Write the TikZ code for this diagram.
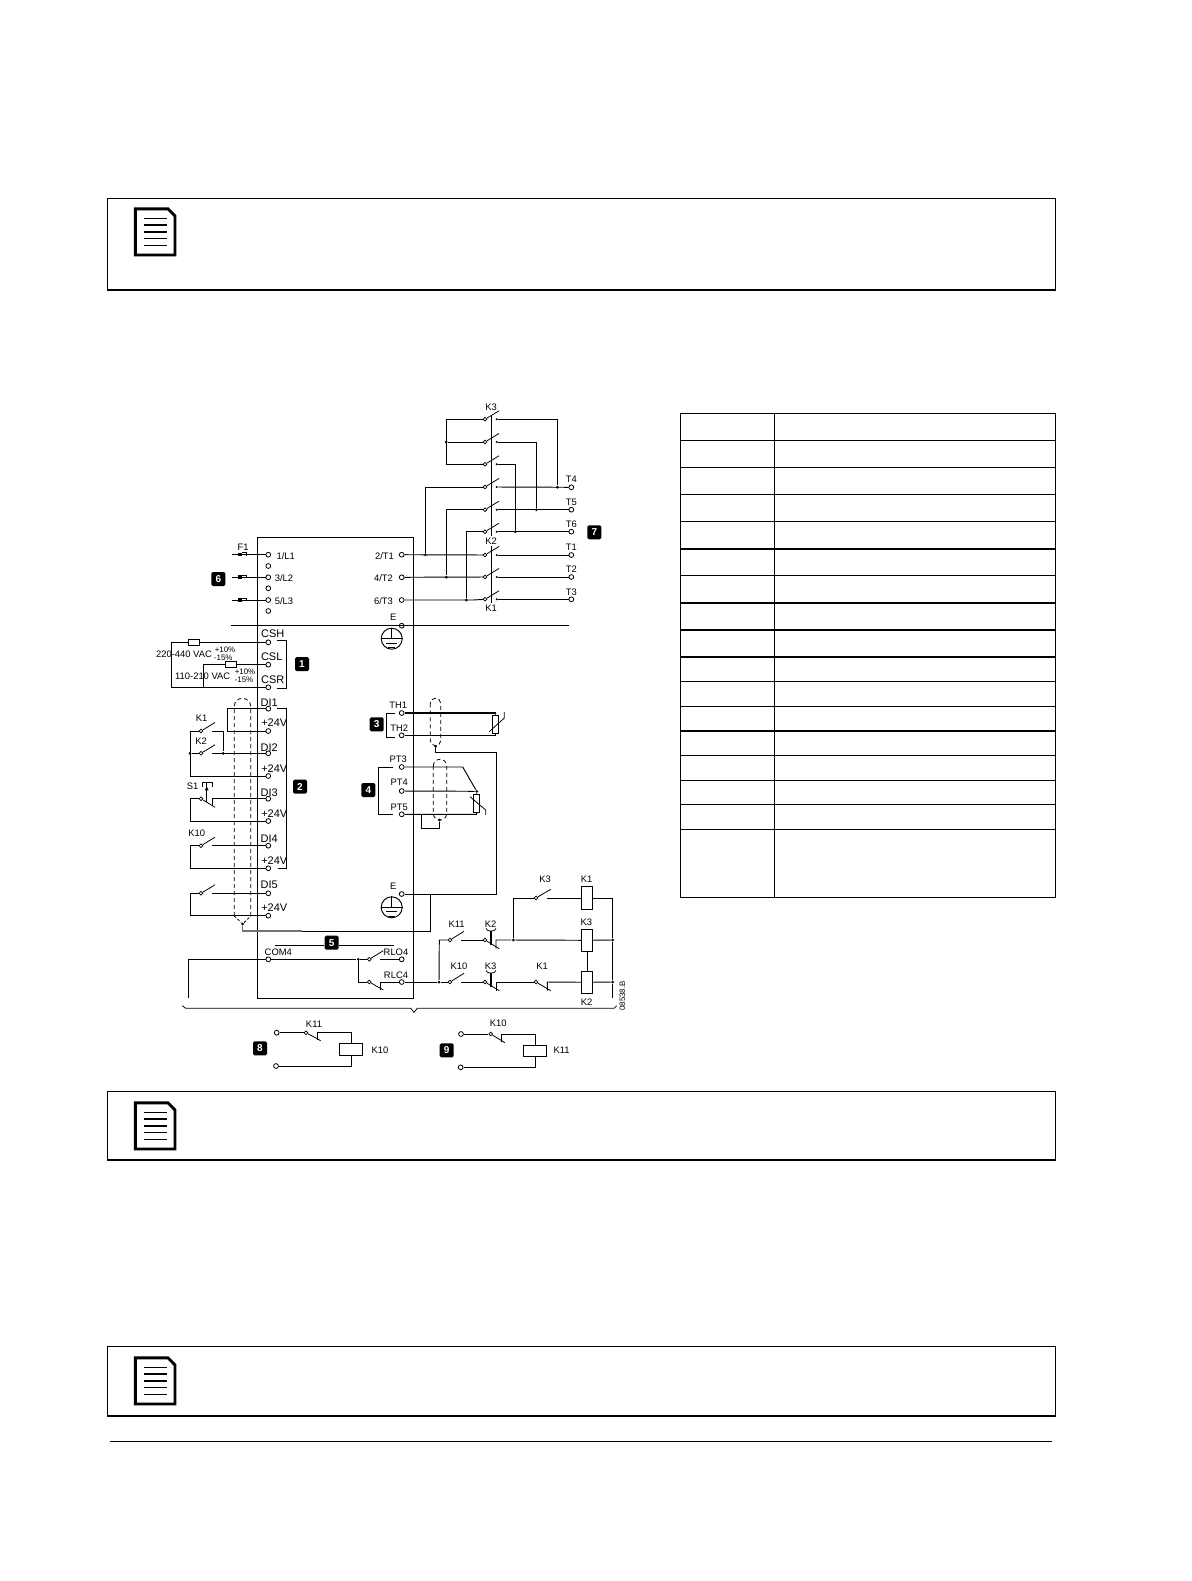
\documentclass[tikz,border=0pt]{standalone}
\usepackage{fontspec}
\setmainfont{Liberation Sans}
\usetikzlibrary{arrows.meta}

% small helpers for the repeated symbols
\newcommand{\noteicon}[2]{% name, top y
  \draw[line width=2.9pt, fill=white, line join=miter] (135.4,#2+0.8) -- (168,#2+0.8) -- (175,#2+8) -- (175,#2+47) -- (135.4,#2+47) -- cycle;
  \foreach \dy in {10.5,17,24,30.5,37.5}
    \draw[line width=1.2pt] (143.5,#2+\dy) -- (166.7,#2+\dy);
}
\newcommand{\earth}[3]{% name, x, y
  \node[circle, draw, minimum size=21pt, inner sep=0pt] (#1) at (#2,#3) {};
  \draw (#1.north) -- (#1.center);
  \draw (#1.west) -- (#1.east);
  \draw (#2-5.7,#3+4.3) -- (#2+5.7,#3+4.3);
  \draw (#2-3.3,#3+8.8) -- (#2+3.3,#3+8.8);
}
\newcommand{\fusemark}[1]{% y
  \fill (238.3,#1-2) rectangle (241.7,#1+1.5);
  \draw[line width=0.7pt] (241.7,#1-2) -- (246.5,#1-2) -- (246.5,#1+1);
}

\begin{document}
\begin{tikzpicture}[x=1pt, y=-1pt, line width=0.95pt,
    term/.style={circle, draw, fill=white, minimum size=4.8pt, inner sep=0pt, line width=0.8pt},
    cont/.style={circle, draw, fill=white, minimum size=3.8pt, inner sep=0pt, line width=0.7pt},
    jdot/.style={circle, fill=black, minimum size=3pt, inner sep=0pt},
    tip/.style={circle, fill=black, minimum size=2.2pt, inner sep=0pt},
    lab/.style={inner sep=0pt, font=\fontsize{9.4}{9.4}\selectfont},
    big/.style={inner sep=0pt, font=\fontsize{11}{11}\selectfont},
    tiny/.style={inner sep=0pt, font=\fontsize{7.9}{8}\selectfont},
    badge/.style={rectangle, rounded corners=1.5pt, fill=black, text=white, minimum size=14pt, inner sep=0pt, font=\fontsize{10}{10}\selectfont\bfseries},
    res/.style={rectangle, draw, fill=white, inner sep=0pt, line width=0.8pt},
    shield/.style={dashed, dash pattern=on 4pt off 3pt, line width=0.8pt}]
  \useasboundingbox (0,0) rectangle (1191,1581);

  % note boxes and footer
  \draw[line width=1.1pt] (107.3,198.3) rectangle (1055.3,290);
  \draw[line width=1.1pt] (107.3,1091.3) rectangle (1055.3,1160);
  \draw[line width=1.1pt] (107.3,1346.3) rectangle (1055.3,1416);
  \noteicon{a}{208}
  \noteicon{b}{1102}
  \noteicon{c}{1357}
  \draw[line width=0.9pt] (110,1441) -- (1051.7,1441); % footer

  % table on the right
  \draw[line width=1.1pt] (680.3,413.3) rectangle (1055.3,897.3);
  \draw[line width=1.1pt] (774.3,413.3) -- (774.3,897.3);
  \foreach \y in {440.3,467.3,494.3,521.3,575.3,681.3,706.3,755.3,780.3,804.3,829.3}
    \draw[line width=1pt] (680.3,\y) -- (1055.3,\y);
  \foreach \y in {549,602.7,630,657,731}
    \draw[line width=1.9pt] (680.3,\y) -- (1055.3,\y);

  % starter outline
  \node[draw, minimum width=156pt, minimum height=461.3pt, inner sep=0pt] (box) at (335.3,767.65) {};

  % terminals, left side
  \foreach \nm/\y in {L1/554.7, L2/577.3, L3/600, Lx/566, Ly/588.3, Lz/611,
      CSH/642.3, CSL/664.7, CSR/687.3, DIa/708.7, Va/731, DIb/753.3, Vb/776,
      DIc/798.7, Vc/821, DId/845.7, Vd/868.3, DIe/893.3, Ve/915.7, COM/959.3}
    \node[term] (\nm) at (268.3,\y) {};
  % terminals, right side
  \foreach \nm/\y in {Ta/554.7, Tb/577.3, Tc/600, Eu/625.7, THa/713, THb/735.3,
      PTa/767, PTb/791, PTc/814.3, El/894, RLO/959.3, RLC/982}
    \node[term] (\nm) at (401.7,\y) {};

  % labels
  \foreach \nm/\x/\y/\t in {F/243/547/F1, lLa/285.7/556/{1/L1}, lLb/284/578/{3/L2}, lLc/284/601/{5/L3},
      lTa/384.5/556/{2/T1}, lTb/383.5/578/{4/T2}, lTc/383.5/601/{6/T3}, lEu/393.3/617.3/E, lEl/393.3/886.7/E,
      lKa/201.7/718.3/K1, lKb/201/741.7/K2, lSa/192.7/786.7/S1, lKc/196.7/833.3/K10,
      lCOM/278.3/952.7/COM4, lRO/396/952.7/RLO4, lRC/396/975.7/RLC4,
      lHa/398.3/705.7/TH1, lHb/399.3/728.3/TH2, lPa/398.3/759.3/PT3, lPb/399.3/782.7/PT4, lPc/399.3/807.3/PT5,
      lV/184/654/220-440 VAC, lW/202.7/676/110-210 VAC,
      lK3t/491/407.3/K3, lK2t/491/541/K2, lK1t/491/608.3/K1,
      lT4/571.3/479.7/T4, lT5/571.3/502.3/T5, lT6/571.3/524.3/T6, lT1/571.3/547/T1, lT2/571.3/569.7/T2, lT3/571.3/592/T3,
      lKd/545/879.3/K3, lKe/586.7/879.3/K1, lKf/586.3/922.3/K3, lKg/586.7/1002.3/K2,
      lKh/456.7/924.3/K11, lKi/490.7/924.3/K2, lKj/459/966.7/K10, lKk/490.7/966.7/K3, lKl/542/966/K1,
      lKm/314/1024.3/K11, lKn/380/1050.7/K10, lKo/498.3/1023/K10, lKp/561.7/1050.3/K11}
    \node[lab] (\nm) at (\x,\y) {\t};
  \foreach \nm/\x/\y/\t in {lCSH/272.7/634/CSH, lCSL/271.7/656.7/CSL, lCSR/272.7/679.3/CSR,
      lDa/269.3/702.3/DI1, lVa/274.3/722.7/+24V, lDb/269.3/747.3/DI2, lVb/274.3/768.3/+24V,
      lDc/269.3/792.7/DI3, lVc/274.3/814/+24V, lDd/269.3/838.3/DI4, lVd/274.3/860.7/+24V,
      lDe/269.3/885/DI5, lVe/274.3/907.7/+24V}
    \node[big] (\nm) at (\x,\y) {\t};
  \foreach \nm/\x/\y/\t in {pa/225/649.3/+10\%, pb/223.3/657.3/-15\%, pc/245/671.7/+10\%, pd/244/679.3/-15\%}
    \node[tiny] (\nm) at (\x,\y) {\t};
  \node[tiny, rotate=90] (code) at (622.3,996) {08538.B};

  % numbered badges
  \foreach \nm/\x/\y/\t in {b1/302/664/1, b2/300/786.7/2, b3/376.7/724.3/3, b4/368.3/790/4, b5/331.7/942.7/5,
      b6/218.3/579/6, b7/594.3/532.3/7, b8/260/1048.3/8, b9/446.7/1050.3/9}
    \node[badge] (\nm) at (\x,\y) {\t};

  % incoming supply with fuses
  \foreach \nm/\y in {L1/554.7, L2/577.3, L3/600} {
    \coordinate (in\nm) at (232,\y);
    \draw (in\nm) -- (\nm);
    \fusemark{\y}
  }
  \coordinate (busL) at (231,625.3);
  \coordinate (busR) at (569,625.3);
  \draw (busL) -- (busR); % divider line

  % earth symbols
  \earth{gnda}{391.7}{638.7}
  \earth{gndb}{391.7}{907.3}

  % control supply
  \node[res, minimum width=11.5pt, minimum height=6pt] (Ra) at (194,642.3) {};
  \node[res, minimum width=11.5pt, minimum height=6pt] (Rb) at (231,664.7) {};
  \draw (CSH) -- (Ra) -- (171.3,642.3) |- (CSR);
  \draw (CSL) -- (Rb) -- (203.3,664.7) -- (203.3,687.3);
  \draw (277.3,640.7) -- (286.7,640.7) -- (286.7,688.3) -- (277.3,688.3); % bracket 1

  % contactor block K1 K2 K3
  \coordinate (mka) at (491.7,415);
  \coordinate (mkb) at (491.7,536);
  \coordinate (mkc) at (491.7,546);
  \coordinate (mkd) at (491.7,603);
  \draw (mka) -- (mkb);
  \draw (mkc) -- (mkd);
  \foreach \nm/\y in {a/419.3, b/442, c/464.3, d/487, e/509.7, f/531.7, g/555, h/577, i/599.3} {
    \node[cont] (c\nm) at (485,\y) {};
    \node[tip] (p\nm) at (496.7,\y) {};
    \draw[line width=0.8pt] (c\nm) -- ++(14,-8.5);
  }
  \node[jdot] (jb) at (446,442) {};
  \draw (ca) -- (446.3,419.3) |- (cc);
  \draw (jb) -- (cb);
  \foreach \nm/\y in {T4/487.3, T5/509.7, T6/531.7, T1/555, T2/577, T3/599.3}
    \node[term] (\nm) at (571.3,\y) {};
  \node[jdot] (ja) at (557.3,487.3) {};
  \node[jdot] (jc) at (536.3,509.7) {};
  \node[jdot] (jd) at (515.3,531.7) {};
  \draw (pa) -| (ja);
  \draw (pb) -| (jc);
  \draw (pc) -| (jd);
  \draw (pd) -- (T4);
  \draw (pe) -- (T5);
  \draw (pf) -- (T6);
  \draw (pg) -- (T1);
  \draw (ph) -- (T2);
  \draw (pi) -- (T3);
  \node[jdot] (je) at (425.3,554.7) {};
  \node[jdot] (jf) at (446.3,577.3) {};
  \node[jdot] (jg) at (466.3,600) {};
  \draw (Ta) -- (cg);
  \draw (Tb) -- (ch);
  \draw (Tc) -- (473,600) -- (ci);
  \draw (cd) -| (je);
  \draw (ce) -| (jf);
  \draw (cf) -| (jg);

  % digital inputs
  \draw (DIa) -- (227.7,708.7) |- (Va);
  \draw (277.3,708.7) -- (286.7,708.7) -- (286.7,868.3) -- (278.3,868.3); % bracket 2
  \foreach \nm/\y in {ka/731, kb/753.3, kd/845.7, ke/893.3} {
    \node[cont] (\nm) at (201,\y) {};
    \draw[line width=0.8pt] (\nm) -- ++(14,-8.5);
    \coordinate (r\nm) at (211.7,\y);
  }
  \node[cont] (kc) at (201,798.7) {};
  \draw[line width=0.8pt] (kc) -- ++(14,8.6);
  \node[jdot] (jh) at (190,753.3) {};
  \node[jdot] (ji) at (223.3,753.3) {};
  \draw (ka) -- (190.3,731) |- (Vb);
  \draw (jh) -- (kb);
  \draw (rka) -- (223.3,731) -- (ji);
  \draw (rkb) -- (DIb);
  \draw (kc) -- (190.3,798.7) |- (Vc);
  \draw (212.3,806.3) -- (212.3,798.7) -- (DIc);
  \draw (kd) -- (190.3,845.7) |- (Vd);
  \draw (rkd) -- (DId);
  \draw (ke) -- (190.3,893.3) |- (Ve);
  \draw (rke) -- (DIe);
  % S1 push button
  \draw[line width=0.8pt] (202.3,786.5) -- (202.3,782.3) -- (212.3,782.3) -- (212.3,786.5);
  \draw[line width=0.8pt] (206.7,782.3) -- (206.7,801.7);
  \fill (206.7,786.5) -- (208.6,790.3) -- (204.8,790.3) -- cycle;

  % cable screen, inputs
  \draw[shield, rounded corners=8pt] (234.3,916) -- (234.3,698.3) -- (250.7,698.3) -- (250.7,916);
  \node[jdot] (sa) at (242.7,924) {};
  \draw[line width=0.8pt, dash pattern=on 2.5pt off 2pt] (234.3,916) -- (sa) -- (250.7,916);
  \draw[line width=1.2pt, black!55] (sa) -- (242.7,931) -- (302,931);
  \draw (302,931) -- (430.3,931) -- (430.3,894);

  % lines either side of badge 5
  \coordinate (ca5) at (275,945.3);
  \coordinate (cb5) at (394,945.3);
  \draw (ca5) -- (b5.west |- ca5);
  \draw (b5.east |- cb5) -- (cb5);

  % relay outputs
  \coordinate (comL) at (188.7,998);
  \node[jdot] (jj) at (358.3,959.3) {};
  \node[cont] (ro) at (369.3,959.3) {};
  \node[cont] (rc) at (369.3,982) {};
  \draw (comL) |- (COM);
  \draw (COM) -- (jj) -- (ro);
  \draw[line width=0.8pt] (ro) -- ++(14,-8.6);
  \draw (380,959.3) -- (RLO);
  \draw (jj) |- (rc);
  \draw[line width=0.8pt] (rc) -- ++(14,8);
  \draw (380.7,990) -- (380.7,982) -- (RLC);

  % thermistor 3
  \node[res, minimum width=6.4pt, minimum height=18.3pt] (Rc) at (495.5,724.2) {};
  \draw[line width=1.9pt] (THa) -- (495.7,713);
  \draw (THb) -- (495.7,735.3);
  \draw (495.7,713) -- (Rc);
  \draw (Rc) -- (495.7,735.3);
  \draw[line width=0.8pt] (489.3,731.7) -- (504.3,718) -- (504.3,712);
  \draw (386.7+8.3,713) -- (386.7,713) -- (386.7,737.3) -- (395,737.3); % bracket 3
  \draw[shield, rounded corners=5pt] (430.3,698.3) rectangle (440.7,745.7);
  \node[jdot] (sb) at (435.7,746.3) {};
  \draw (sb) -- (435.7,752.3) -- (496.7,752.3) |- (El);

  % thermistor 4
  \node[res, minimum width=6pt, minimum height=18.4pt] (Rd) at (476.3,803.5) {};
  \node[jdot] (jk) at (476.7,791.3) {};
  \draw (PTa) -- (462.7,767) -- (jk);
  \draw (PTb) -- (jk);
  \draw (jk) -- (Rd);
  \draw (PTc) -- (476.7,814.3) -- (Rd);
  \draw[line width=0.8pt] (470,796.7) -- (485.7,810) -- (485.7,815);
  \draw (393.3,767) -- (378.3,767) -- (378.3,814.3) -- (393.3,814.3); % bracket 4
  \draw[shield, rounded corners=6.5pt] (433.3,759.3) rectangle (446.7,820);
  \node[jdot] (sc) at (439.3,820) {};
  \draw (sc) -- (439.3,828.3) -- (421.3,828.3) -- (421.3,814.3);

  % control circuit
  \node[res, minimum width=11pt, minimum height=22.6pt] (Ca) at (587.2,898) {};
  \node[res, minimum width=11pt, minimum height=22pt] (Cb) at (587.2,940.3) {};
  \node[res, minimum width=11pt, minimum height=22pt] (Cc) at (587.2,982.3) {};
  \foreach \nm/\x/\y in {na/536/898, nb/450/940, nc/485/940, nd/450/982, ne/485/982, nf/536/982}
    \node[cont] (\nm) at (\x,\y) {};
  \draw[line width=0.8pt] (na) -- ++(14.7,-8.7);
  \draw[line width=0.8pt] (nb) -- ++(14,-8.7);
  \draw[line width=0.8pt] (nd) -- ++(14,-8.7);
  \draw[line width=0.8pt] (nc) -- ++(14.3,8.7);
  \draw[line width=0.8pt] (ne) -- ++(14.3,8.7);
  \draw[line width=0.8pt] (nf) -- ++(14.7,8.7);
  \node[jdot] (jl) at (513.3,940) {};
  \node[jdot] (jm) at (439,982) {};
  \node[jdot] (jn) at (612.7,940) {};
  \node[jdot] (jo) at (612.7,982) {};
  \coordinate (kend) at (612.7,998.3);
  \draw (jl) |- (na);
  \draw (546.7,898) -- (Ca);
  \draw (Ca) -- (612.7,898) -- (jn) -- (jo) -- (kend);
  \draw (Cb) -- (jn);
  \draw (Cc) -- (jo);
  \draw (Cb) -- (Cc);
  \draw (nb) -- (439.3,940) -- (jm);
  \draw (RLC) -- (jm) -- (nd);
  \draw (461,940) -- (nc);
  \draw (461,982) -- (ne);
  \draw (496,948.7) -- (496,940) -- (jl) -- (Cb);
  \draw (496,990.7) -- (496,982) -- (nf);
  \draw (547.3,990.7) -- (547.3,982) -- (Cc);
  % pushers of K2 and K3
  \foreach \y in {0,42} {
    \draw[line width=1.6pt] (491,930.7+\y) -- (491,945+\y);
    \draw[line width=0.8pt] (486,928.5+\y) .. controls (487,932+\y) and (495,932+\y) .. (496,928.5+\y);
  }

  % brace below
  \coordinate (brL) at (182.3,1005.7);
  \coordinate (brR) at (616.7,1005.7);
  \draw[line width=0.8pt] (brL) -- (185.7,1008.3) -- (410.7,1008.3) -- (414,1012.3) -- (417.3,1008.3) -- (614,1008.3) -- (brR);

  % relay 8
  \node[term] (ea) at (276.7,1032.7) {};
  \node[term] (eb) at (276,1066) {};
  \node[cont] (ec) at (306,1032.7) {};
  \node[res, minimum width=23.4pt, minimum height=12.4pt] (ed) at (351,1049.5) {};
  \draw (ea) -- (ec);
  \draw[line width=0.8pt] (ec) -- ++(14.7,8);
  \draw (317.3,1040) -- (317.3,1032.7) -| (ed);
  \draw (eb) -| (ed);

  % relay 9
  \node[term] (fa) at (461,1034) {};
  \node[term] (fb) at (460.7,1067.3) {};
  \node[cont] (fc) at (490.7,1034) {};
  \node[res, minimum width=23.4pt, minimum height=11.4pt] (fd) at (535,1051) {};
  \draw (fa) -- (fc);
  \draw[line width=0.8pt] (fc) -- ++(14.3,8.7);
  \draw (501.7,1042) -- (501.7,1034) -| (fd);
  \draw (fb) -| (fd);
\end{tikzpicture}
\end{document}
